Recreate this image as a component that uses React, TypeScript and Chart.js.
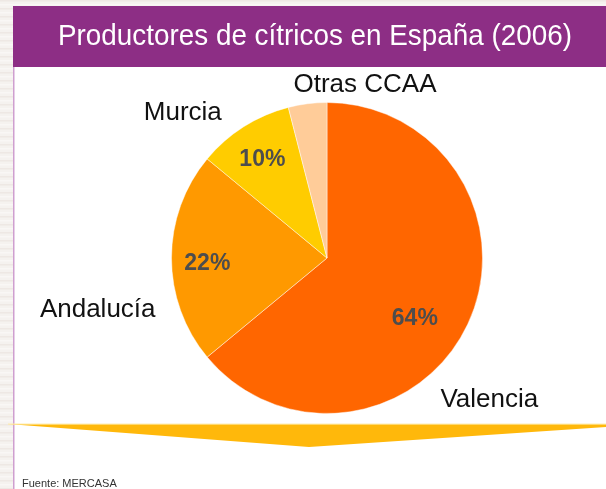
import React, { useEffect, useRef } from "react";
import { Chart, registerables } from "chart.js";

Chart.register(...registerables);

const TITLE = "Productores de cítricos en España (2006)";
const SOURCE = "Fuente: MERCASA";
const categories = ["Valencia", "Andalucía", "Murcia", "Otras CCAA"];
const shares = [64, 22, 10, 4];
const shareLabels = ["64%", "22%", "10%", ""];
const sliceColors = ["#FF6600", "#FF9900", "#FFCC00", "#FFCC99"];

// label placement relative to each slice: [radius factor, angle offset in degrees]
const innerPlacement = [[0.683, 9], [0.77, -2], [0.763, -0.6], [0, 0]];
const outerPlacement = [[1.381, 15.7], [1.511, -12.6], [1.321, -12.2], [1.146, 19.5]];

const W = 606;
const H = 489;

const decorPlugin = {
  id: "decor",
  beforeDraw(chart: any) {
    const ctx = chart.ctx as CanvasRenderingContext2D;
    ctx.save();
    // page background with faint streaks
    ctx.fillStyle = "#f5f2ef";
    ctx.fillRect(0, 0, W, H);
    for (let y = 0; y < H; y += 4) {
      ctx.fillStyle = y % 8 === 0 ? "rgba(225,215,210,0.35)" : "rgba(255,255,255,0.4)";
      ctx.fillRect(0, y, W, 1.5);
    }
    // white panel
    ctx.fillStyle = "#ffffff";
    ctx.fillRect(13, 66, W - 13, H - 66);
    // left border line
    ctx.fillStyle = "#cf9fd0";
    ctx.fillRect(13, 66, 1.5, H - 66);
    // header
    ctx.fillStyle = "#8d2e85";
    ctx.fillRect(13, 6, W - 13, 61);
    // title
    ctx.fillStyle = "#ffffff";
    ctx.font = "29px 'Liberation Sans', Arial, sans-serif";
    ctx.textBaseline = "alphabetic";
    ctx.textAlign = "left";
    const tw = ctx.measureText(TITLE).width;
    const target = 514;
    ctx.translate(58, 45);
    ctx.scale(target / tw, 1);
    ctx.fillText(TITLE, 0, 0);
    ctx.restore();
  },
  afterDatasetsDraw(chart: any) {
    const ctx = chart.ctx as CanvasRenderingContext2D;
    const meta = chart.getDatasetMeta(0);
    ctx.save();
    meta.data.forEach((arc: any, i: number) => {
      const mid = (arc.startAngle + arc.endAngle) / 2;
      const r = arc.outerRadius;
      // inner percentage labels
      if (shareLabels[i]) {
        const [k, d] = innerPlacement[i];
        const a = mid + (d * Math.PI) / 180;
        ctx.fillStyle = "#4d4d4d";
        ctx.font = "bold 23px 'Liberation Sans', Arial, sans-serif";
        ctx.textAlign = "center";
        ctx.textBaseline = "middle";
        ctx.fillText(shareLabels[i], arc.x + Math.cos(a) * r * k, arc.y + Math.sin(a) * r * k + 1);
      }
      // outer category labels
      const [k2, d2] = outerPlacement[i];
      const a2 = mid + (d2 * Math.PI) / 180;
      ctx.fillStyle = "#111111";
      ctx.font = "26px 'Liberation Sans', Arial, sans-serif";
      ctx.textAlign = "center";
      ctx.textBaseline = "middle";
      ctx.fillText(categories[i], arc.x + Math.cos(a2) * r * k2, arc.y + Math.sin(a2) * r * k2 + 1);
    });
    // arrow
    ctx.beginPath();
    ctx.moveTo(8, 424);
    ctx.lineTo(W, 424);
    ctx.lineTo(W, 427);
    ctx.lineTo(309, 447);
    ctx.closePath();
    ctx.fillStyle = "#FFB80B";
    ctx.fill();
    ctx.fillStyle = "rgba(255,235,170,0.9)";
    ctx.fillRect(8, 423.5, W - 8, 1.2);
    // source
    ctx.fillStyle = "#333333";
    ctx.font = "11px 'Liberation Sans', Arial, sans-serif";
    ctx.textAlign = "left";
    ctx.textBaseline = "alphabetic";
    ctx.fillText(SOURCE, 22, 487);
    ctx.restore();
  },
};

export default function App() {
  const ref = useRef<HTMLCanvasElement | null>(null);
  useEffect(() => {
    if (!ref.current) return;
    const chart = new Chart(ref.current, {
      type: "pie",
      data: {
        labels: categories,
        datasets: [
          {
            data: shares,
            backgroundColor: sliceColors,
            borderColor: "rgba(255,255,255,0.45)",
            borderWidth: 1,
          },
        ],
      },
      options: {
        animation: false,
        responsive: false,
        devicePixelRatio: 1,
        layout: { padding: { left: 171, right: 123, top: 102, bottom: 75 } },
        plugins: {
          legend: { display: false },
          tooltip: { enabled: false },
          title: { display: false },
        },
      },
      plugins: [decorPlugin],
    });
    return () => chart.destroy();
  }, []);
  return (
    <div style={{ position: "fixed", left: 0, top: 0, width: W, height: H }}>
      <canvas ref={ref} width={W} height={H} style={{ width: W, height: H, display: "block" }} />
    </div>
  );
}
